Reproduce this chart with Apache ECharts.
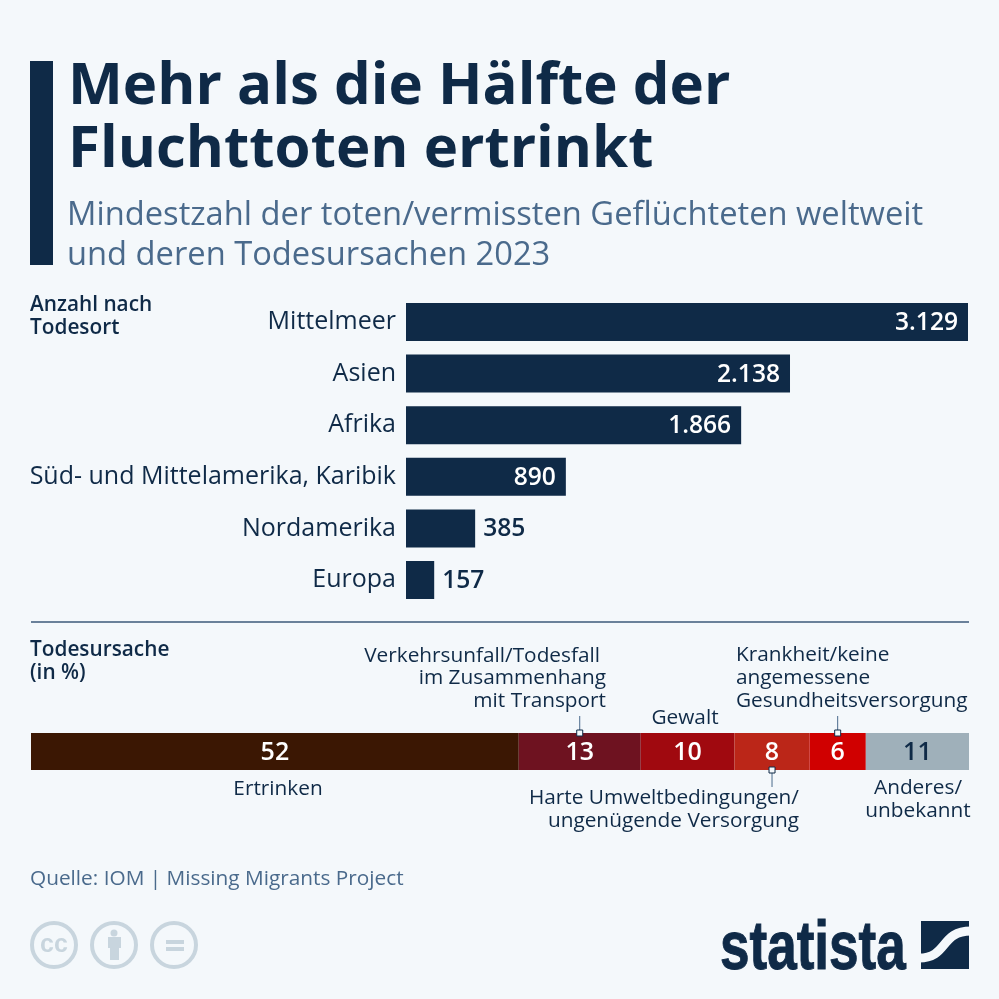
<!DOCTYPE html>
<html>
<head>
<meta charset="utf-8">
<style>html,body{margin:0;padding:0;background:#f4f8fb}#main{width:999px;height:999px}</style>
<script src="https://cdn.jsdelivr.net/npm/echarts@6/dist/echarts.min.js"></script>
</head>
<body>
<div id="main"></div>
<script>
var places = ['Mittelmeer', 'Asien', 'Afrika', 'Süd- und Mittelamerika, Karibik', 'Nordamerika', 'Europa'];
var placeValues = [3129, 2138, 1866, 890, 385, 157];

var causes = ['Ertrinken', 'Verkehrsunfall', 'Gewalt', 'Umwelt', 'Krankheit', 'Anderes'];
var causeValues = [52, 13, 10, 8, 6, 11];
var causeColors = ['#3b1703', '#6e1220', '#a0090f', '#bb2618', '#d00000', '#9fb0ba'];
var causeLabelColors = ['#fff', '#fff', '#fff', '#fff', '#fff', '#0f2a47'];

var navy = '#0f2a47';
var slate = '#4a6a8c';
var bg = '#f4f8fb';
var gray = '#c8d5de';
var font = '"Open Sans"';

var chart = echarts.init(document.getElementById('main'), null, {renderer: 'canvas'});

function fmt(v) {
    return v.toLocaleString('de-DE');
}

function txt(x, y, text, size, opt) {
    opt = opt || {};
    return {
        type: 'text', x: x, y: y, silent: true,
        scaleX: opt.scaleX || 1,
        style: {
            text: text,
            fill: opt.color || navy,
            stroke: opt.stroke,
            lineWidth: opt.stroke ? 1 : 0,
            font: (opt.weight || 'normal') + ' ' + size + 'px ' + (opt.family || font),
            lineHeight: opt.lineHeight || size * 1.2,
            align: opt.align || 'left',
            verticalAlign: 'top'
        }
    };
}

function box(x, y, w, h, fill) {
    return {type: 'rect', silent: true, shape: {x: x, y: y, width: w, height: h}, style: {fill: fill}};
}

var barSeries = {
    type: 'bar',
    xAxisIndex: 0,
    yAxisIndex: 0,
    barWidth: 38,
    itemStyle: {color: navy},
    data: placeValues.map(function (v) {
        var inside = v > 500;
        return {
            value: v,
            label: {
                show: true,
                position: inside ? 'insideRight' : 'right',
                distance: inside ? 10 : 8,
                color: inside ? '#fff' : navy,
                formatter: fmt(v),
                fontFamily: font,
                fontWeight: 600,
                fontSize: 24.6,
                offset: [0, 1]
            }
        };
    })
};

var stackSeries = causes.map(function (c, i) {
    return {
        type: 'bar',
        name: c,
        stack: 'ursache',
        xAxisIndex: 1,
        yAxisIndex: 1,
        barWidth: 37,
        itemStyle: {color: causeColors[i]},
        label: {
            show: true,
            position: 'inside',
            color: causeLabelColors[i],
            fontFamily: font,
            fontWeight: 600,
            fontSize: 25,
            offset: [0, 1.5]
        },
        data: [causeValues[i]]
    };
});

chart.setOption({
    animation: false,
    backgroundColor: bg,
    grid: [
        {left: 406, width: 562, top: 296.2, height: 309.6},
        {left: 31, width: 938, top: 733, height: 37}
    ],
    xAxis: [
        {gridIndex: 0, type: 'value', min: 0, max: 3129, show: false},
        {gridIndex: 1, type: 'value', min: 0, max: 100, show: false}
    ],
    yAxis: [
        {
            gridIndex: 0, type: 'category', inverse: true, data: places,
            axisLine: {show: false}, axisTick: {show: false},
            axisLabel: {color: navy, fontFamily: font, fontSize: 25, margin: 10, padding: [3, 0, 0, 0]}
        },
        {gridIndex: 1, type: 'category', data: ['Todesursache'], show: false}
    ],
    series: [barSeries].concat(stackSeries)
});

// Position der Anmerkungslinien aus der Skala holen
function causeX(index) {
    var sum = 0;
    for (var i = 0; i < index; i++) sum += causeValues[i];
    return chart.convertToPixel({xAxisIndex: 1}, sum + causeValues[index] / 2);
}

function leader(x, y1, y2) {
    return [
        {type: 'line', silent: true, shape: {x1: x, y1: y1, x2: x, y2: y2}, style: {stroke: slate, lineWidth: 1}},
        {type: 'rect', silent: true, shape: {x: x - 3, y: y2 - 3, width: 6, height: 6},
            style: {fill: '#f4f8fb', stroke: navy, lineWidth: 1}, z: 10}
    ];
}

var elements = [
    box(30, 61, 23, 204, navy),
    txt(68, 56, 'Mehr als die Hälfte der\nFluchttoten ertrinkt', 58.2, {weight: 'bold', lineHeight: 63}),
    txt(67, 196, 'Mindestzahl der toten/vermissten Geflüchteten weltweit\nund deren Todesursachen 2023', 32.7, {color: slate, lineHeight: 40}),
    txt(30, 294, 'Anzahl nach\nTodesort', 20.8, {weight: 600, lineHeight: 23}),
    {type: 'line', silent: true, shape: {x1: 31, y1: 622, x2: 969, y2: 622}, style: {stroke: '#3d5a7a', lineWidth: 1.5}},
    txt(30, 639, 'Todesursache\n(in %)', 20.8, {weight: 600, lineHeight: 23}),
    txt(600, 644, 'Verkehrsunfall/Todesfall', 20.8, {align: 'right'}),
    txt(606, 667, 'im Zusammenhang\nmit Transport', 20.8, {align: 'right', lineHeight: 23}),
    txt(685, 706, 'Gewalt', 20.8, {align: 'center'}),
    txt(736, 644, 'Krankheit/keine\nangemessene\nGesundheitsversorgung', 20.8, {lineHeight: 22.7}),
    txt(278, 777, 'Ertrinken', 20.8, {align: 'center'}),
    txt(799, 787, 'Harte Umweltbedingungen/\nungenügende Versorgung', 20.8, {align: 'right', lineHeight: 23}),
    txt(918, 777, 'Anderes/\nunbekannt', 20.8, {align: 'center', lineHeight: 23}),
    txt(30, 867, 'Quelle: IOM | Missing Migrants Project', 20.8, {color: slate}),
    // Logo
    txt(720, 909, 'statista', 68, {weight: 'bold', family: '"Liberation Sans"', scaleX: 0.78, stroke: navy}),
    box(921, 921, 48, 48, navy),
    {type: 'bezierCurve', silent: true,
        shape: {x1: 919, y1: 958, cpx1: 948, cpy1: 958, cpx2: 940, cpy2: 931, x2: 971, y2: 931},
        style: {fill: 'none', stroke: bg, lineWidth: 9}},
    // CC-Symbole
    txt(54, 930, 'cc', 25, {weight: 'bold', color: gray, align: 'center', family: '"Liberation Sans"'}),
    {type: 'circle', silent: true, shape: {cx: 114, cy: 933, r: 3.5}, style: {fill: gray}},
    box(108, 937, 13, 11, gray),
    box(110, 948, 9, 12, gray),
    box(166, 940, 18, 4, gray),
    box(166, 947, 18, 4, gray)
];

[54, 114, 174].forEach(function (cx) {
    elements.push({type: 'circle', silent: true, shape: {cx: cx, cy: 945, r: 22}, style: {fill: 'none', stroke: gray, lineWidth: 4}});
});

elements = elements
    .concat(leader(causeX(1), 716, 733))
    .concat(leader(causeX(4), 716, 733))
    .concat(leader(causeX(3), 787, 770));

chart.setOption({graphic: {elements: elements}});
</script>
</body>
</html>
